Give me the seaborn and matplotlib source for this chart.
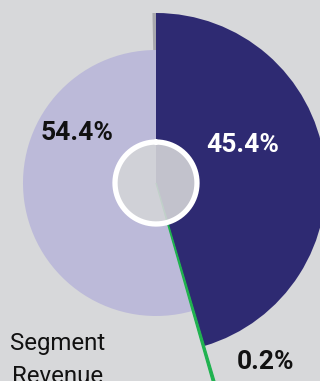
import numpy as np
import matplotlib
matplotlib.use("Agg")
import matplotlib.pyplot as plt
import seaborn as sns

# ---- data ----
categories = ["Segment A", "Segment B", "Segment C"]
shares = [45.4, 0.2, 54.4]                 # percent of revenue
radius_values = [170, 260, 133]            # radial length of each slice
labels = ["45.4%", "0.2%", "54.4%"]
colors = ["#2e2a72", "#1fb24f", "#bcbad9"]
title_lines = ["Segment", "Revenue"]

sns.set_theme(style="white")
plt.rcParams["font.family"] = ["Roboto", "DejaVu Sans"]

bg = "#d7d8da"
W, H = 320, 381
fig = plt.figure(figsize=(W / 100, H / 100), dpi=100, facecolor=bg)

cx, cy = 156, 183          # pixel centre (from top)
R = 250
ax = fig.add_axes([(cx - R) / W, (H - cy - R) / H, 2 * R / W, 2 * R / H],
                  projection="polar")
ax.set_theta_zero_location("N")
ax.set_theta_direction(-1)
ax.set_ylim(0, R)
ax.set_axis_off()
ax.patch.set_alpha(0)

total = sum(shares)
widths = [2 * np.pi * s / total for s in shares]
starts = np.concatenate([[0], np.cumsum(widths)[:-1]])

# thin grey shade at the top left edge of the first slice
ax.bar(-np.deg2rad(0.6), radius_values[0], width=np.deg2rad(1.2), align="center",
       color="#a8a8ad", linewidth=0, zorder=1)

order = [0, 2, 1]
for i in order:
    ax.bar(starts[i], radius_values[i], width=widths[i], align="edge",
           color=colors[i], edgecolor=colors[i] if i == 1 else "none",
           linewidth=0.9 if i == 1 else 0, zorder=2 if i != 1 else 3)

# centre disc with white ring
th = np.linspace(0, 2 * np.pi, 400)
ax.fill(th, np.full_like(th, 41), color="#d3d4d7", alpha=0.9, zorder=4, linewidth=0)
ax.plot(th, np.full_like(th, 41), color="white", lw=3.8, zorder=5)

def ftext(x, y, s, **kw):
    fig.text(x / W, 1 - y / H, s, ha="center", va="center", **kw)

ftext(77, 133, labels[2], fontsize=19, fontweight="bold", color="#111111")
ftext(243, 145, labels[0], fontsize=19, fontweight="bold", color="white")
ftext(266, 362, labels[1], fontsize=19, fontweight="bold", color="#111111")
for k, line in enumerate(title_lines):
    fig.text((10 + 2 * k) / W, 1 - (350 + 33 * k) / H, line, ha="left",
             va="baseline", fontsize=17.3, color="#111111")

fig.savefig("out.png", dpi=100, facecolor=bg)
